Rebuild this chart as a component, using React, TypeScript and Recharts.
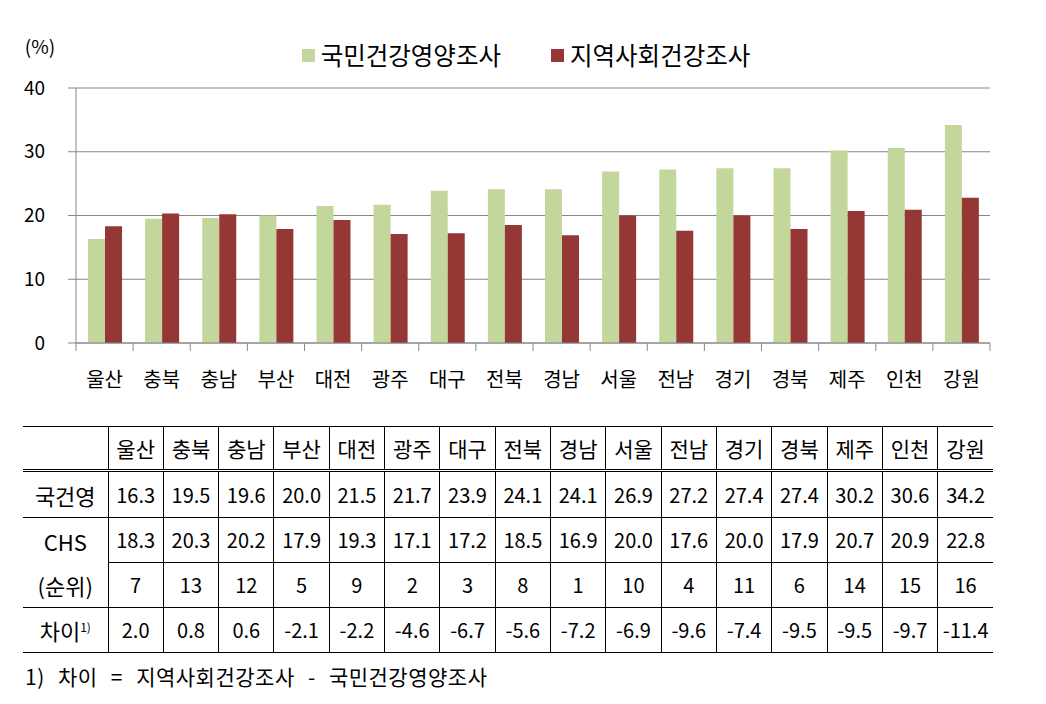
import React from "react";
import {
  BarChart,
  Bar,
  XAxis,
  YAxis,
  CartesianGrid,
  Legend,
} from "recharts";

const regions = ["울산", "충북", "충남", "부산", "대전", "광주", "대구", "전북", "경남", "서울", "전남", "경기", "경북", "제주", "인천", "강원"];
const knhanes = [16.3, 19.5, 19.6, 20.0, 21.5, 21.7, 23.9, 24.1, 24.1, 26.9, 27.2, 27.4, 27.4, 30.2, 30.6, 34.2];
const chs = [18.3, 20.3, 20.2, 17.9, 19.3, 17.1, 17.2, 18.5, 16.9, 20.0, 17.6, 20.0, 17.9, 20.7, 20.9, 22.8];
const chsRank = [7, 13, 12, 5, 9, 2, 3, 8, 1, 10, 4, 11, 6, 14, 15, 16];
const diff = [2.0, 0.8, 0.6, -2.1, -2.2, -4.6, -6.7, -5.6, -7.2, -6.9, -9.6, -7.4, -9.5, -9.5, -9.7, -11.4];
const yTicks = [0, 10, 20, 30, 40];

const SERIES_A = "국민건강영양조사";
const SERIES_B = "지역사회건강조사";

const GREEN = "#c3d69b";
const RED = "#953735";
const GRID = "#878787";
const FONT = '"Noto Sans CJK KR", "Noto Sans", sans-serif';

const W = 1046;
const H = 410;
const PLOT_LEFT = 76;
const PLOT_RIGHT = 990;
const PLOT_BOTTOM = 343;
const BAND = (PLOT_RIGHT - PLOT_LEFT) / regions.length;

const data = regions.map((r, i) => ({ region: r, a: knhanes[i], b: chs[i] }));

const CategoryTick = ({ x, payload, index }: any) => (
  <g>
    <line x1={x - BAND / 2} x2={x - BAND / 2} y1={PLOT_BOTTOM} y2={PLOT_BOTTOM + 8} stroke={GRID} />
    {index === regions.length - 1 && (
      <line x1={x + BAND / 2} x2={x + BAND / 2} y1={PLOT_BOTTOM} y2={PLOT_BOTTOM + 8} stroke={GRID} />
    )}
    <text x={x} y={PLOT_BOTTOM + 44} textAnchor="middle" fontSize={20} fill="#000" fontFamily={FONT}>
      {payload.value}
    </text>
  </g>
);

// legend drawn by hand so the squares/spacing look like the Excel original
const LegendContent = () => (
  <div style={{ display: "flex", justifyContent: "center", gap: 50, fontFamily: FONT, fontSize: 24.5, lineHeight: "30px", paddingLeft: 62 }}>
    {[{ c: GREEN, t: SERIES_A }, { c: RED, t: SERIES_B }].map((d) => (
      <div key={d.t} style={{ display: "flex", alignItems: "center" }}>
        <span style={{ width: 13, height: 13, background: d.c, display: "inline-block", marginRight: 6 }} />
        <span>{d.t}</span>
      </div>
    ))}
  </div>
);

const cell: React.CSSProperties = {
  borderLeft: "1px solid #000",
  textAlign: "center",
  padding: 0,
  fontSize: 20,
};
const headCell: React.CSSProperties = { ...cell, fontSize: 21 };
const labelCell: React.CSSProperties = { textAlign: "center", padding: 0, fontSize: 22 };
const rowLine: React.CSSProperties = { borderBottom: "1px solid #000" };

export default function App() {
  return (
    <div style={{ position: "absolute", left: 0, top: 0, width: W, height: 704, background: "#fff", fontFamily: FONT }}>
      <BarChart
        width={W}
        height={H}
        data={data}
        margin={{ top: 48, right: W - PLOT_RIGHT, bottom: 17, left: 0 }}
        barCategoryGap="21%"
        barGap={0}
      >
        <CartesianGrid vertical={false} stroke={GRID} />
        <XAxis
          dataKey="region"
          height={50}
          axisLine={{ stroke: GRID }}
          tickLine={false}
          interval={0}
          tick={<CategoryTick />}
        />
        <YAxis
          width={PLOT_LEFT}
          domain={[0, 40]}
          ticks={yTicks}
          axisLine={{ stroke: GRID }}
          tickLine={{ stroke: GRID }}
          tickSize={8}
          tickMargin={23}
          tick={{ fill: "#000", fontSize: 19, fontFamily: FONT }}
          label={{ value: "(%)", position: "top", offset: 34, dx: 2, fill: "#000", fontSize: 19, fontFamily: FONT }}
        />
        <Legend verticalAlign="top" height={40} wrapperStyle={{ top: 40, height: 40 }} content={<LegendContent />} />
        <Bar dataKey="a" name={SERIES_A} fill={GREEN} isAnimationActive={false} />
        <Bar dataKey="b" name={SERIES_B} fill={RED} isAnimationActive={false} />
      </BarChart>

      <table
        style={{
          position: "absolute",
          left: 23,
          top: 426,
          width: 970,
          borderCollapse: "collapse",
          tableLayout: "fixed",
          lineHeight: 1,
        }}
      >
        <colgroup>
          <col style={{ width: 85 }} />
          {regions.map((r) => (
            <col key={r} />
          ))}
        </colgroup>
        <tbody>
          <tr style={{ height: 44, borderTop: "1px solid #000", borderBottom: "3px double #000" }}>
            <td style={labelCell}></td>
            {regions.map((r) => (
              <td key={r} style={headCell}>{r}</td>
            ))}
          </tr>
          <tr style={{ height: 47, ...rowLine }}>
            <td style={labelCell}>국건영</td>
            {knhanes.map((v, i) => (
              <td key={i} style={cell}>{v.toFixed(1)}</td>
            ))}
          </tr>
          <tr style={{ height: 45, ...rowLine }}>
            <td rowSpan={2} style={{ ...labelCell, lineHeight: "44px", borderBottom: "1px solid #000" }}>
              CHS
              <br />
              (순위)
            </td>
            {chs.map((v, i) => (
              <td key={i} style={cell}>{v.toFixed(1)}</td>
            ))}
          </tr>
          <tr style={{ height: 45, ...rowLine }}>
            {chsRank.map((v, i) => (
              <td key={i} style={cell}>{v}</td>
            ))}
          </tr>
          <tr style={{ height: 45, ...rowLine }}>
            <td style={labelCell}>
              차이<sup style={{ fontSize: 12 }}>1)</sup>
            </td>
            {diff.map((v, i) => (
              <td key={i} style={cell}>{v.toFixed(1)}</td>
            ))}
          </tr>
        </tbody>
      </table>

      <div style={{ position: "absolute", left: 25, top: 661, fontSize: 21, letterSpacing: 0.5, wordSpacing: 8, whiteSpace: "pre" }}>
        1) 차이 = 지역사회건강조사 - 국민건강영양조사
      </div>
    </div>
  );
}
